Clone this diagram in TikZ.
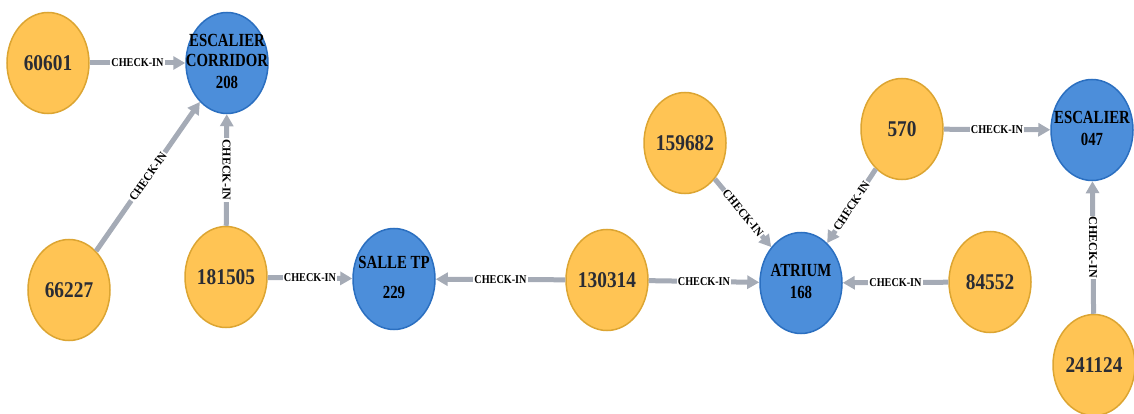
\documentclass[tikz,border=0pt]{standalone}
\usepackage{fontspec}
\setmainfont{Liberation Serif}
\usetikzlibrary{arrows.meta,shapes.geometric}
\definecolor{orfill}{HTML}{FFC454}
\definecolor{ordraw}{HTML}{DCA532}
\definecolor{blfill}{HTML}{4C8EDA}
\definecolor{bldraw}{HTML}{2B6FC0}
\definecolor{edgec}{HTML}{A5ABB6}
\definecolor{txt}{HTML}{2A2C34}
\newcommand\nlab[1]{\makebox[0pt]{\scalebox{0.86}[1]{\fontsize{22.5}{22}\selectfont\bfseries #1}}}
\newcommand\blab[2][22pt]{\makebox[0pt]{\scalebox{0.8}[1]{\fontsize{18.5}{#1}\selectfont\bfseries\begin{tabular}{@{}c@{}}#2\end{tabular}}}}
\newcommand\elab[1][0.85]{\scalebox{#1}[1]{\fontsize{12}{12}\selectfont\bfseries CHECK-IN}}
\tikzset{
  base/.style={ellipse, minimum width=82, minimum height=101, inner sep=0pt, line width=1.5pt},
  pnode/.style={base, draw=ordraw, fill=orfill, text=txt},
  lnode/.style={base, draw=bldraw, fill=blfill, text=black},
  rel/.style={draw=edgec, line width=5pt, -{Triangle[length=12pt,width=13pt]}},
  rlab/.style={fill=white, inner sep=1pt, text=black},
}
\begin{document}
\begin{tikzpicture}[x=1pt,y=-1pt]
\useasboundingbox (0,0) rectangle (1134,414);
\node[pnode] (n60601) at (48,63) {\nlab{60601}};
\node[lnode] (escor) at (227,63) {\blab{ESCALIER\\[-2pt]CORRIDOR\\208}};
\node[pnode] (n66227) at (69,290) {\nlab{66227}};
\node[pnode] (n181505) at (226,277) {\nlab{181505}};
\node[lnode] (salle) at (394,279) {\blab{SALLE TP\\[8pt]229}};
\node[pnode] (n130314) at (607,280) {\nlab{130314}};
\node[pnode] (n159682) at (685,143) {\nlab{159682}};
\node[pnode] (n570) at (902,129) {\nlab{570}};
\node[lnode] (atrium) at (801,283) {\blab{ATRIUM\\168}};
\node[pnode] (n84552) at (990,282) {\nlab{84552}};
\node[lnode] (esc047) at (1092,130) {\blab{ESCALIER\\047}};
\node[pnode] (n241124) at (1094,365) {\nlab{241124}};

\draw[rel] (n60601) -- node[rlab]{\elab} (escor);
\draw[rel] (n66227) -- node[rlab,sloped]{\elab[0.92]} (escor);
\draw[rel] (n181505) -- node[rlab,rotate=-90]{\elab[1]} (escor);
\draw[rel] (n181505) -- node[rlab]{\elab} (salle);
\draw[rel] (n130314) -- node[rlab]{\elab} (salle);
\draw[rel] (n130314) -- node[rlab]{\elab} (atrium);
\draw[rel] (n159682) -- node[rlab,sloped]{\elab[0.92]} (atrium);
\draw[rel] (n570) -- node[rlab,sloped]{\elab[0.92]} (atrium);
\draw[rel] (n84552) -- node[rlab]{\elab} (atrium);
\draw[rel] (n570) -- node[rlab]{\elab} (esc047);
\draw[rel] (n241124) -- node[rlab,rotate=-90]{\elab[1]} (esc047);
\end{tikzpicture}
\end{document}
